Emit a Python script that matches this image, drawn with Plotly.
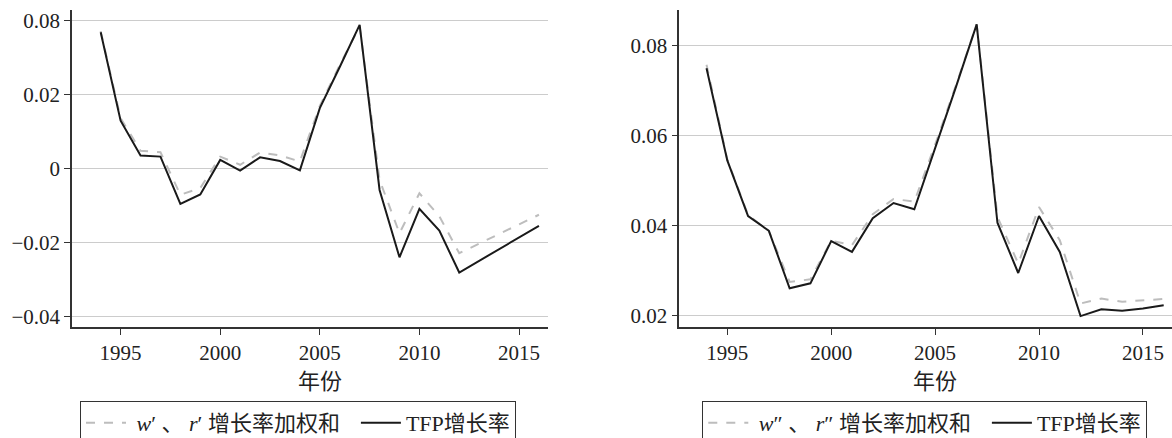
import plotly.graph_objects as go

# ---- left panel data ----
years_l = [1994, 1995, 1996, 1997, 1998, 1999, 2000, 2001, 2002, 2003, 2004,
           2005, 2006, 2007, 2008, 2009, 2010, 2011, 2012, 2016]
wr1_l = [0.0372, 0.0137, 0.0049, 0.0045, -0.0070, -0.0052, 0.0033, 0.0011, 0.0044,
         0.0036, 0.0020, 0.0170, 0.0280, 0.0385, -0.0030, -0.0174, -0.0066, -0.0128,
         -0.0228, -0.0124]
tfp_l = [0.0369, 0.0130, 0.0036, 0.0033, -0.0095, -0.0069, 0.0024, -0.0005, 0.0031,
         0.0021, -0.0004, 0.0164, 0.0275, 0.0389, -0.0057, -0.0239, -0.0108, -0.0167,
         -0.0280, -0.0154]
ytick_vals_l = [0.04, 0.02, 0, -0.02, -0.04]
ytick_text_l = ["0.08", "0.02", "0", "\u22120.02", "\u22120.04"]

# ---- right panel data ----
years_r = [1994, 1995, 1996, 1997, 1998, 1999, 2000, 2001, 2002, 2003, 2004,
           2005, 2006, 2007, 2008, 2009, 2010, 2011, 2012, 2013, 2014, 2015, 2016]
wr2_r = [0.0758, 0.0547, 0.0423, 0.0388, 0.0274, 0.0280, 0.0366, 0.0356, 0.0425,
         0.0459, 0.0453, 0.0580, 0.0712, 0.0848, 0.0419, 0.0315, 0.0441, 0.0367,
         0.0226, 0.0237, 0.0230, 0.0233, 0.0236]
tfp_r = [0.0750, 0.0545, 0.0421, 0.0388, 0.0260, 0.0271, 0.0365, 0.0341, 0.0416,
         0.0450, 0.0436, 0.0570, 0.0708, 0.0848, 0.0406, 0.0294, 0.0421, 0.0341,
         0.0198, 0.0213, 0.0210, 0.0215, 0.0222]
xtick_vals = [1995, 2000, 2005, 2010, 2015]

NB = "\u00a0"
name_wr1 = NB + "<i>w</i>\u2032 \u3001 <i>r</i>\u2032 增长率加权和" + NB * 2
name_wr2 = NB + "<i>w</i>\u2033 \u3001 <i>r</i>\u2033 增长率加权和" + NB * 2
name_tfp = "TFP增长率"
xtitle = "年份"

FONT = "'Liberation Serif', 'Times New Roman', 'Noto Sans CJK SC', serif"
DASH_C = "#bdbdbd"
SOLID_C = "#1a1a1a"
TXT_C = "#222222"

fig = go.Figure()
fig.add_trace(go.Scatter(x=years_l, y=wr1_l, mode="lines", name=name_wr1,
                         line=dict(color=DASH_C, width=2, dash="dash"),
                         xaxis="x", yaxis="y", legend="legend"))
fig.add_trace(go.Scatter(x=years_l, y=tfp_l, mode="lines", name=name_tfp,
                         line=dict(color=SOLID_C, width=2),
                         xaxis="x", yaxis="y", legend="legend"))
fig.add_trace(go.Scatter(x=years_r, y=wr2_r, mode="lines", name=name_wr2,
                         line=dict(color=DASH_C, width=2, dash="dash"),
                         xaxis="x2", yaxis="y2", legend="legend2"))
fig.add_trace(go.Scatter(x=years_r, y=tfp_r, mode="lines", name=name_tfp,
                         line=dict(color=SOLID_C, width=2),
                         xaxis="x2", yaxis="y2", legend="legend2"))

W, H = 1172, 438
ydom = [1 - 327.3 / H, 1 - 10 / H]

axis_common = dict(showline=True, linecolor="#333", linewidth=1.5,
                   ticks="outside", ticklen=6, tickcolor="#333",
                   tickfont=dict(family=FONT, size=21, color=TXT_C),
                   zeroline=False)
legend_common = dict(orientation="h", xanchor="left", y=1 - 401 / H,
                     yanchor="top", bgcolor="white", bordercolor="#333",
                     borderwidth=1, itemwidth=40,
                     font=dict(family=FONT, size=22, color=TXT_C))

fig.update_layout(
    width=W, height=H, autosize=False,
    margin=dict(l=0, r=0, t=0, b=0, autoexpand=False),
    paper_bgcolor="white", plot_bgcolor="white",
    font=dict(family=FONT, size=21, color=TXT_C),
    xaxis=dict(domain=[72 / W, 547.7 / W], range=[1992.56, 2016.44],
               tickvals=xtick_vals, showgrid=False, anchor="y", **axis_common),
    yaxis=dict(domain=ydom, range=[-0.0428, 0.0429], tickvals=ytick_vals_l,
               ticktext=ytick_text_l, showgrid=True, gridcolor="#cccccc",
               gridwidth=1, anchor="x", **axis_common),
    xaxis2=dict(domain=[679.3 / W, 1.0], range=[1992.69, 2016.4],
                tickvals=xtick_vals, showgrid=False, anchor="y2", **axis_common),
    yaxis2=dict(domain=ydom, range=[0.0173, 0.0880],
                tickvals=[0.02, 0.04, 0.06, 0.08], tickformat=".2f",
                showgrid=True, gridcolor="#cccccc", gridwidth=1,
                anchor="x2", **axis_common),
    legend=dict(x=80 / W, **legend_common),
    legend2=dict(x=702.3 / W, **legend_common),
    annotations=[
        dict(text=xtitle, x=2005, xref="x", y=1 - 381.7 / H, yref="paper",
             showarrow=False, yanchor="middle",
             font=dict(family=FONT, size=22, color=TXT_C)),
        dict(text=xtitle, x=2005, xref="x2", y=1 - 381.7 / H, yref="paper",
             showarrow=False, yanchor="middle",
             font=dict(family=FONT, size=22, color=TXT_C)),
    ],
)

fig.write_html("out.html", config={"displayModeBar": False},
               post_script="document.body.style.margin='0px';")
